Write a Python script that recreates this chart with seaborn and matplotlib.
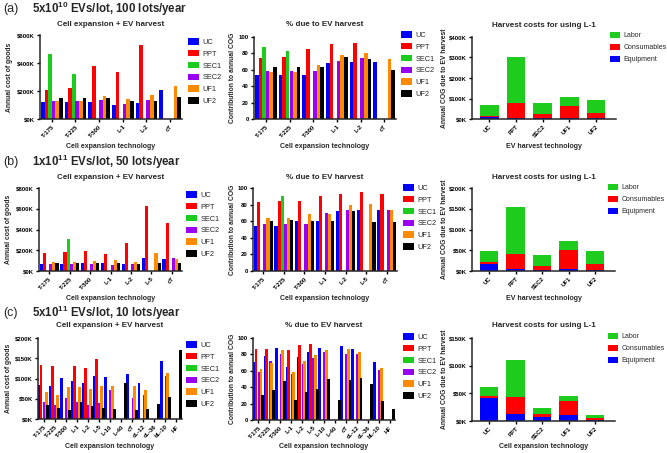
import numpy as np
import pandas as pd
import seaborn as sns
import matplotlib.pyplot as plt
from matplotlib.patches import Patch
from matplotlib.ticker import FuncFormatter, MultipleLocator

na = np.nan

methods = ['UC', 'PPT', 'SEC1', 'SEC2', 'UF1', 'UF2']
method_colors = ['#0000ff', '#ff0000', '#1ccc1c', '#9a00f2', '#ff8a00', '#000000']
harvest = ['UC', 'PPT', 'SEC2', 'UF1', 'UF2']
parts = ['Labor', 'Consumables', 'Equipment']
part_colors = ['#1ecc1e', '#ff0000', '#0000ff']

# (a) 5x10^10 EVs/lot, 100 lots/year  -- rows follow `methods`, costs in $K
cats_a = ['T-175', 'T-225', 'T-500', 'L-1', 'L-2', 'cT']
cost_a = [
    [125, 122, 122, 97, 113, 210],
    [210, 225, 378, 335, 528, na],
    [465, 323, na, na, na, na],
    [132, 132, 133, 108, 135, na],
    [132, 132, 167, 140, 175, 235],
    [153, 153, 153, 127, 130, 158],
]
pct_a = [
    [54, 54, 54, 68, 70, 70],
    [74, 75, 85, 91, 93, na],
    [88, 83, na, na, na, na],
    [58, 59, 58, 71, 74, na],
    [57, 57, 66, 78, 80, 73],
    [63, 63, 63, 75, 73, 60],
]
equip_a = [8, 3, 3, 3, 3]
cons_a = [8, 77, 22, 62, 28]
labor_a = [51, 222, 52, 43, 64]

# (b) 1x10^11 EVs/lot, 50 lots/year
cats_b = ['T-175', 'T-225', 'T-500', 'L-1', 'L-2', 'L-5', 'cT']
cost_b = [
    [70, 68, 78, 78, 65, 130, 118],
    [178, 185, 190, 168, 270, 630, 460],
    [na, 305, na, na, na, na, na],
    [68, 68, 68, 55, 68, na, 125],
    [85, 85, 100, 102, 85, 178, 120],
    [78, 78, 78, 78, 65, 78, 78],
]
pct_b = [
    [54, 54, 60, 60, 72, 74, 73],
    [83, 84, 84, 90, 93, 95, 93],
    [na, 90, na, na, na, na, na],
    [57, 57, 57, 70, 73, na, 74],
    [64, 64, 69, 69, 79, 81, 73],
    [60, 61, 60, 60, 72, 59, 59],
]
equip_b = [17, 5, 3, 5, 2]
cons_b = [5, 37, 10, 45, 14]
labor_b = [26, 112, 26, 22, 32]

# (c) 5x10^11 EVs/lot, 10 lots/year
cats_c = ['T-175', 'T-225', 'T-500', 'L-1', 'L-2', 'L-5', 'L-10', 'L-40',
          'cT', 'cL-12', 'cL-36', 'bL-10', 'HF']
cost_c = [
    [85, 81, 102, 93, 90, 107, 104, na, 110, 88, na, 142, na],
    [133, 130, na, 130, 125, 149, na, na, na, na, na, na, na],
    [na, na, na, na, na, na, na, na, na, na, na, na, na],
    [41, 35, 52, 43, 34, 40, 71, na, 53, 60, na, 106, na],
    [66, 59, 79, 78, 74, 82, 81, na, 82, 71, na, 114, na],
    [34, 28, 21, 43, 31, 26, 24, 90, 22, 24, 38, 54, 170],
]
pct_c = [
    [71, 78, 88, 65, 77, 83, 88, na, 90, 86, na, 71, na],
    [87, 87, na, 85, 91, 93, na, na, na, na, na, na, na],
    [na, na, na, na, na, na, na, na, na, na, na, na, na],
    [59, 72, 80, 56, 68, 76, 83, na, 80, 80, na, 61, na],
    [62, 69, 85, 58, 72, 79, 85, na, 86, 83, na, 64, na],
    [30, 37, 48, 25, 34, 38, 50, 24, 49, 51, 44, 23, 13],
]
equip_c = [42, 13, 7, 11, 2]
cons_c = [3, 31, 6, 25, 3]
labor_c = [16, 67, 11, 9, 6]

W, H = 667, 453
TICK_FS = 4.3

sns.set_style('ticks')
plt.rcParams['font.family'] = ['Liberation Sans', 'DejaVu Sans']
plt.rcParams['font.weight'] = 'bold'
plt.rcParams['mathtext.fontset'] = 'custom'
plt.rcParams['mathtext.rm'] = 'Liberation Sans'
plt.rcParams['mathtext.bf'] = 'Liberation Sans:bold'
plt.rcParams['axes.linewidth'] = 1.1

fig = plt.figure(figsize=(W / 100, H / 100), dpi=100)


def make_ax(x0, top, x1, bot):
    ax = fig.add_axes([x0 / W, 1 - bot / H, (x1 - x0) / W, (bot - top) / H])
    sns.despine(ax=ax)
    ax.tick_params(length=2.5, width=1, labelsize=TICK_FS, pad=1.2, colors='black')
    return ax


def finish(ax, geom, title, title_y, xlabel, xlabel_y, ylabel, ylabel_x, ymax, step, money):
    x0, top, x1, bot = geom
    ax.set_ylim(0, ymax)
    ax.yaxis.set_major_locator(MultipleLocator(step))
    if money:
        ax.yaxis.set_major_formatter(FuncFormatter(lambda v, p: f'${v:.0f}K'))
    else:
        ax.yaxis.set_major_formatter(FuncFormatter(lambda v, p: f'{v:.0f}'))
    ax.set_title(title, fontsize=5.8, fontweight='bold', pad=(top - title_y - 3) * 0.72)
    ax.set_xlabel(xlabel, fontsize=5.0, fontweight='bold', va='center')
    ax.set_ylabel(ylabel, fontsize=4.9, fontweight='bold', va='center')
    hgt = bot - top
    wid = x1 - x0
    ax.xaxis.set_label_coords(0.5, -(xlabel_y - bot) / hgt)
    ax.yaxis.set_label_coords(-(x0 - ylabel_x) / wid, 0.5)
    for lab in ax.get_xticklabels():
        lab.set_rotation(45)
        lab.set_ha('right')
        lab.set_rotation_mode('anchor')
        lab.set_fontsize(TICK_FS)
        lab.set_fontweight('bold')
    for lab in ax.get_yticklabels():
        lab.set_fontsize(TICK_FS)
        lab.set_fontweight('bold')


def grouped(geom, cats, values, widen=1.0):
    ax = make_ax(*geom)
    rows = [(c, m, v) for m, vals in zip(methods, values) for c, v in zip(cats, vals)]
    df = pd.DataFrame(rows, columns=['tech', 'method', 'value'])
    sns.barplot(data=df, x='tech', y='value', hue='method', order=cats,
                hue_order=methods, palette=method_colors, width=0.92,
                saturation=1, errorbar=None, legend=False, linewidth=0, ax=ax)
    if widen != 1.0:
        for p in ax.patches:
            w = p.get_width()
            p.set_x(p.get_x() - w * (widen - 1) / 2)
            p.set_width(w * widen)
    ax.set_xlim(-0.5, len(cats) - 0.5)
    return ax


def stacked(geom, equip, cons, labor):
    ax = make_ax(*geom)
    equip = np.array(equip)
    lower = equip + np.array(cons)
    total = lower + np.array(labor)
    for vals, col in zip([total, lower, equip], part_colors):
        sns.barplot(x=harvest, y=vals, color=col, width=0.7, saturation=1,
                    linewidth=0, errorbar=None, ax=ax)
    ax.set_xlim(-0.65, 4.75)
    return ax


def legend(ax, labels, colors, x, top, fs=5.3, spacing=0.55, hl=1.5):
    handles = [Patch(facecolor=c, edgecolor='none') for c in colors]
    ax.legend(handles, labels, loc='upper left', bbox_to_anchor=(x / W, 1 - top / H),
              bbox_transform=fig.transFigure, frameon=False,
              prop={'size': fs, 'weight': 'normal'}, handlelength=hl, handleheight=1.0,
              labelspacing=spacing, handletextpad=0.5, borderpad=0, borderaxespad=0)


def heading(letter, text, y):
    fig.text(3 / W, 1 - y / H, letter, fontsize=9, fontweight='normal', va='center')
    fig.text(32 / W, 1 - y / H, text, fontsize=8.3, fontweight='bold', va='center')


rows_spec = [
    dict(letter='(a)', head=r'5x10$^{\mathbf{10}}$ EVs/lot, 100 lots/year', head_y=9,
         cats=cats_a, cost=cost_a, pct=pct_a, eq=equip_a, co=cons_a, la=labor_a,
         left=(40, 35, 182, 119), mid=(254, 37, 396, 119), right=(472, 37, 616, 119),
         title_y=(23, 23, 24), xl_y=146, cost_max=600, cost_step=200,
         h_max=400, h_step=100, h_xlabel='EV harvest technology',
         leg=((188, 38), (401, 31), (610, 32)), widen=1.0),
    dict(letter='(b)', head=r'1x10$^{\mathbf{11}}$ EVs/lot, 50 lots/year', head_y=162,
         cats=cats_b, cost=cost_b, pct=pct_b, eq=equip_b, co=cons_b, la=labor_b,
         left=(39, 188, 182, 271), mid=(253, 188, 397, 271), right=(472, 188, 615, 271),
         title_y=(176, 176, 176), xl_y=298, cost_max=800, cost_step=200,
         h_max=200, h_step=50, h_xlabel='EV harvest technology',
         leg=((186, 191), (403, 184), (608, 184)), widen=1.0),
    dict(letter='(c)', head=r'5x10$^{\mathbf{11}}$ EVs/lot, 10 lots/year', head_y=313,
         cats=cats_c, cost=cost_c, pct=pct_c, eq=equip_c, co=cons_c, la=labor_c,
         left=(38, 338, 182, 419), mid=(253, 338, 395, 420), right=(472, 338, 615, 421),
         title_y=(324, 324, 324), xl_y=447, cost_max=200, cost_step=50,
         h_max=150, h_step=50, h_xlabel='Cell expansion technology',
         leg=((186, 341), (403, 333), (608, 333)), widen=1.7),
]

for r in rows_spec:
    heading(r['letter'], r['head'], r['head_y'])

    ax = grouped(r['left'], r['cats'], r['cost'], r['widen'])
    finish(ax, r['left'], 'Cell expansion + EV harvest', r['title_y'][0],
           'Cell expansion technology', r['xl_y'], 'Annual cost of goods', 9,
           r['cost_max'], r['cost_step'], True)
    legend(ax, methods, method_colors, *r['leg'][0])

    ax = grouped(r['mid'], r['cats'], r['pct'], r['widen'])
    finish(ax, r['mid'], '% due to EV harvest', r['title_y'][1],
           'Cell expansion technology', r['xl_y'], 'Contribution to annual COG', 233,
           100, 20, False)
    legend(ax, methods, method_colors, *r['leg'][1])

    ax = stacked(r['right'], r['eq'], r['co'], r['la'])
    finish(ax, r['right'], 'Harvest costs for using L-1', r['title_y'][2],
           r['h_xlabel'], r['xl_y'], 'Annual COG due to EV harvest', 444,
           r['h_max'], r['h_step'], True)
    legend(ax, parts, part_colors, *r['leg'][2], fs=5.0, spacing=0.65, hl=1.4)

fig.savefig('out.png', dpi=100)
